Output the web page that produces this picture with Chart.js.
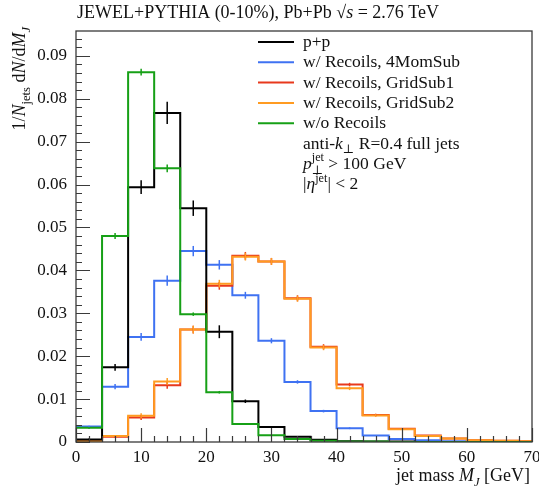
<!DOCTYPE html>
<html>
<head>
<meta charset="utf-8">
<script src="https://cdn.jsdelivr.net/npm/chart.js@4.4.1/dist/chart.umd.min.js"></script>
<style>
  html, body { margin: 0; padding: 0; background: #fff; }
  #wrap { width: 539px; height: 487px; }
</style>
</head>
<body>
<div id="wrap"><canvas id="chart"></canvas></div>
<script>
// bin edges in GeV (4 GeV bins, last one runs past the axis end)
const binEdges = [0, 4, 8, 12, 16, 20, 24, 28, 32, 36, 40, 44, 48, 52, 56, 60, 64, 68, 72];

const ppVals   = [0.0006, 0.0174, 0.0594, 0.0767, 0.0545, 0.0257, 0.0095, 0.0035, 0.0012, 0.0005, 0.0002, 0.0001, 0.0001, 0.0000, 0.0000, 0.0000, 0.0000, 0.0000];
const momVals  = [0.0036, 0.0129, 0.0245, 0.0376, 0.0445, 0.0413, 0.0342, 0.0236, 0.0140, 0.0072, 0.0032, 0.0015, 0.0007, 0.0004, 0.0002, 0.0001, 0.0001, 0.0000];
const grid1Vals = [0.0002, 0.0012, 0.0057, 0.0132, 0.0262, 0.0364, 0.0434, 0.0421, 0.0335, 0.0222, 0.0134, 0.0063, 0.0031, 0.0015, 0.0008, 0.0004, 0.0003, 0.0002];
const grid2Vals = [0.0002, 0.0014, 0.0061, 0.0141, 0.0262, 0.0369, 0.0432, 0.0421, 0.0334, 0.0220, 0.0125, 0.0062, 0.0030, 0.0014, 0.0008, 0.0004, 0.0003, 0.0002];
const noRecVals = [0.0033, 0.0480, 0.0862, 0.0638, 0.0298, 0.0116, 0.0042, 0.0016, 0.0007, 0.0003, 0.0001, 0.0001, 0.0000, 0.0000, 0.0000, 0.0000, 0.0000, 0.0000];

// statistical errors (half length)
const ppErr    = [0.0002, 0.0008, 0.0016, 0.0026, 0.0018, 0.0015, 0.0004, 0.0002, 0, 0, 0, 0, 0, 0, 0, 0, 0, 0];
const momErr   = [0.0002, 0.0006, 0.0009, 0.0012, 0.0012, 0.0011, 0.0008, 0.0006, 0.0004, 0.0003, 0.0002, 0, 0, 0, 0, 0, 0, 0];
const grid1Err = [0, 0.0002, 0.0006, 0.0008, 0.0009, 0.0009, 0.0009, 0.0008, 0.0007, 0.0006, 0.0004, 0.0003, 0, 0, 0, 0, 0, 0];
const grid2Err = [0, 0.0002, 0.0006, 0.0008, 0.0009, 0.0009, 0.0009, 0.0008, 0.0007, 0.0006, 0.0004, 0.0003, 0, 0, 0, 0, 0, 0];
const noRecErr = [0.0002, 0.0007, 0.0008, 0.0009, 0.0004, 0.0003, 0.0002, 0, 0, 0, 0, 0, 0, 0, 0, 0, 0, 0];

const seriesLabels = ['p+p', 'w/ Recoils, 4MomSub', 'w/ Recoils, GridSub1', 'w/ Recoils, GridSub2', 'w/o Recoils'];
const xTicks = [0, 10, 20, 30, 40, 50, 60, 70];
const yTicks = [0, 0.01, 0.02, 0.03, 0.04, 0.05, 0.06, 0.07, 0.08, 0.09];

const FONT = "'Liberation Serif', 'DejaVu Serif', serif";

// turn bin contents into step points
function toSteps(vals) {
    const pts = vals.map((v, i) => ({ x: binEdges[i], y: v }));
    pts.push({ x: binEdges[binEdges.length - 1], y: vals[vals.length - 1] });
    return pts;
}

function histo(label, vals, errs, color, order) {
    return {
        label: label,
        data: toSteps(vals),
        errs: errs,
        vals: vals,
        borderColor: color,
        borderWidth: 2,
        pointRadius: 0,
        stepped: true,
        fill: false,
        order: order
    };
}

// draw text with italic / sub / superscript pieces
// a part with stay:true is overlaid by the next part (stacked sup/sub)
function drawRich(ctx, parts, x, y, size, measureOnly) {
    let cx = x, held = 0;
    for (const p of parts) {
        let s = size, dy = 0;
        if (p.pos === 'sub') { s = size * 0.7; dy = size * 0.28; }
        if (p.pos === 'sup') { s = size * 0.7; dy = -size * 0.42; }
        ctx.font = (p.it ? 'italic ' : '') + s + 'px ' + FONT;
        const w = ctx.measureText(p.t).width;
        if (!measureOnly) ctx.fillText(p.t, cx, y + dy);
        if (p.stay) { held = Math.max(held, w); continue; }
        cx += Math.max(w, held);
        held = 0;
    }
    return cx - x;
}

const axisDeco = {
    id: 'axisDeco',
    afterDatasetsDraw(chart) {
        const { ctx, chartArea: a, scales: { x, y } } = chart;
        ctx.save();
        // error bars
        ctx.beginPath();
        ctx.rect(a.left, a.top, a.width, a.height);
        ctx.clip();
        chart.data.datasets.forEach(ds => {
            ctx.strokeStyle = ds.borderColor;
            ctx.lineWidth = 1.5;
            ds.errs.forEach((e, i) => {
                if (!e) return;
                const px = x.getPixelForValue((binEdges[i] + binEdges[i + 1]) / 2);
                ctx.beginPath();
                ctx.moveTo(px, y.getPixelForValue(ds.vals[i] - e));
                ctx.lineTo(px, y.getPixelForValue(ds.vals[i] + e));
                ctx.stroke();
            });
        });
        ctx.restore();

        ctx.save();
        ctx.strokeStyle = '#3a3a3a';
        ctx.lineWidth = 1.2;
        ctx.beginPath();
        for (let v = 0; v <= 70; v += 2) {
            const px = Math.round(x.getPixelForValue(v)) + 0.5;
            const len = v % 10 === 0 ? 14 : 6;
            ctx.moveTo(px, a.bottom);
            ctx.lineTo(px, a.bottom - len);
        }
        for (let k = 0; k <= 47; k++) {
            const v = k * 0.002;
            const py = Math.round(y.getPixelForValue(v)) + 0.5;
            const len = k % 5 === 0 ? 14 : 6;
            ctx.moveTo(a.left, py);
            ctx.lineTo(a.left + len, py);
        }
        ctx.stroke();
        ctx.lineWidth = 1.3;
        ctx.strokeRect(a.left, a.top, a.width, a.height);
        ctx.restore();
    },
    afterDraw(chart) {
        const { ctx, chartArea: a } = chart;
        ctx.save();
        ctx.fillStyle = '#111';
        ctx.textBaseline = 'alphabetic';
        ctx.textAlign = 'left';

        // top title
        drawRich(ctx, [
            { t: 'JEWEL+PYTHIA (0-10%), Pb+Pb ' },
            { t: '\u221A' },
            { t: 's', it: true },
            { t: ' = 2.76 TeV' }
        ], 77, 18, 18);

        // x axis title, right aligned
        const xt = [{ t: 'jet mass ' }, { t: 'M', it: true }, { t: 'J', it: true, pos: 'sub' }, { t: ' [GeV]' }];
        const xw = drawRich(ctx, xt, 0, 0, 18, true);
        drawRich(ctx, xt, a.right - 2 - xw, 481, 18);

        // y axis title, rotated, top aligned
        const yt = [
            { t: '1/' }, { t: 'N', it: true }, { t: 'jets', pos: 'sub' },
            { t: ' d' }, { t: 'N', it: true }, { t: '/d' }, { t: 'M', it: true }, { t: 'J', it: true, pos: 'sub' }
        ];
        const yw = drawRich(ctx, yt, 0, 0, 18, true);
        ctx.translate(25, a.top - 4);
        ctx.rotate(-Math.PI / 2);
        drawRich(ctx, yt, -yw, 0, 18);
        ctx.restore();

        // legend
        ctx.save();
        ctx.fillStyle = '#111';
        const lx = 258, tx = 303, ly0 = 42, dy = 20.3, fs = 17.5;
        chart.data.datasets.forEach((ds, i) => {
            const yy = ly0 + i * dy;
            ctx.strokeStyle = ds.borderColor;
            ctx.lineWidth = 2;
            ctx.beginPath();
            ctx.moveTo(lx, yy);
            ctx.lineTo(lx + 36, yy);
            ctx.stroke();
            drawRich(ctx, [{ t: ds.label }], tx, yy + 5, fs);
        });
        let yy = ly0 + 5 * dy + 5;
        drawRich(ctx, [{ t: 'anti-' }, { t: 'k', it: true }, { t: '\u22A5', pos: 'sub' }, { t: ' R=0.4 full jets' }], tx, yy, fs);
        yy += dy;
        drawRich(ctx, [{ t: 'p', it: true }, { t: 'jet', pos: 'sup', stay: true }, { t: '\u22A5', pos: 'sub' }, { t: ' > 100 GeV' }], tx, yy, fs);
        yy += dy;
        drawRich(ctx, [{ t: '|' }, { t: '\u03B7', it: true }, { t: 'jet', pos: 'sup' }, { t: '| < 2' }], tx, yy, fs);
        ctx.restore();
    }
};

const tickFont = { family: FONT, size: 17 };

new Chart(document.getElementById('chart'), {
    type: 'line',
    data: {
        datasets: [
            histo(seriesLabels[0], ppVals, ppErr, '#000000', 1),
            histo(seriesLabels[1], momVals, momErr, '#3f72f2', 4),
            histo(seriesLabels[2], grid1Vals, grid1Err, '#e8391c', 3),
            histo(seriesLabels[3], grid2Vals, grid2Err, '#ff9b21', 2),
            histo(seriesLabels[4], noRecVals, noRecErr, '#16a016', 0)
        ]
    },
    options: {
        responsive: true,
        maintainAspectRatio: false,
        animation: false,
        layout: { padding: { top: 31, right: 7, left: 0, bottom: 0 } },
        plugins: {
            legend: { display: false },
            tooltip: { enabled: false }
        },
        scales: {
            x: {
                type: 'linear',
                min: 0,
                max: 70,
                afterBuildTicks: s => { s.ticks = xTicks.map(v => ({ value: v })); },
                afterFit: s => { s.height = 45; s.paddingLeft = 0; s.paddingRight = 0; },
                grid: { display: false, drawTicks: false },
                border: { display: false },
                ticks: { font: tickFont, color: '#111', padding: 5, maxRotation: 0, callback: v => String(v) }
            },
            y: {
                type: 'linear',
                min: 0,
                max: 0.0958,
                afterBuildTicks: s => { s.ticks = yTicks.map(v => ({ value: v })); },
                afterFit: s => { s.width = 76; s.paddingTop = 0; s.paddingBottom = 0; },
                grid: { display: false, drawTicks: false },
                border: { display: false },
                ticks: { font: tickFont, color: '#111', padding: 9, callback: v => v === 0 ? '0' : v.toFixed(2) }
            }
        }
    },
    plugins: [axisDeco]
});
</script>
</body>
</html>
